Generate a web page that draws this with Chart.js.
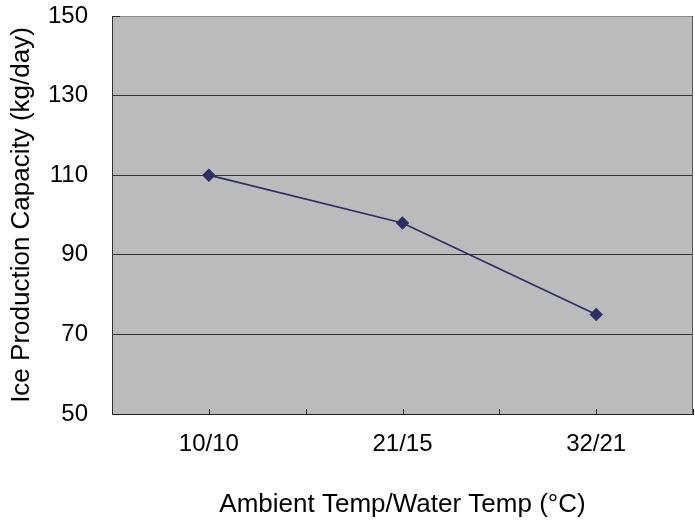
<!DOCTYPE html>
<html>
<head>
<meta charset="utf-8">
<script src="https://cdn.jsdelivr.net/npm/chart.js@4/dist/chart.umd.min.js"></script>
<style>
  html, body { margin: 0; padding: 0; background: #fff; }
  #wrap { width: 695px; height: 520px; }
</style>
</head>
<body>
<div id="wrap"><canvas id="myChart"></canvas></div>
<script>
const categories = ['10/10', '21/15', '32/21'];
const capacity = [110, 98, 75];
const yTicks = [50, 70, 90, 110, 130, 150];

// gray plot background, right border and the small inward tick marks
const plotFrame = {
  id: 'plotFrame',
  beforeDraw(chart) {
    const a = chart.chartArea, c = chart.ctx;
    c.save();
    c.fillStyle = '#bbbbbb';
    c.fillRect(a.left, a.top, a.right - a.left, a.bottom - a.top);
    c.restore();
  },
  afterDatasetsDraw(chart) {
    const a = chart.chartArea, c = chart.ctx, x = chart.scales.x;
    c.save();
    c.strokeStyle = '#222';
    c.lineWidth = 1;
    c.beginPath();
    const n = categories.length;
    for (let i = 0; i <= 2 * n; i++) {
      const px = Math.round(x.getPixelForValue(i / 2 - 0.5)) + 0.5;
      c.moveTo(px, a.bottom);
      c.lineTo(px, a.bottom - 5);
    }
    c.moveTo(a.left, Math.round(a.top) + 0.5);
    c.lineTo(a.left + 8, Math.round(a.top) + 0.5);
    c.stroke();
    c.strokeStyle = '#555';
    c.beginPath();
    c.moveTo(Math.round(a.right) - 0.5, a.top);
    c.lineTo(Math.round(a.right) - 0.5, a.bottom);
    c.stroke();
    c.restore();
  }
};

new Chart(document.getElementById('myChart'), {
  type: 'line',
  data: {
    labels: categories,
    datasets: [{
      data: capacity,
      borderColor: '#2f2f66',
      backgroundColor: '#2f2f66',
      borderWidth: 1.75,
      pointStyle: 'rectRot',
      pointRadius: 5.5,
      tension: 0
    }]
  },
  options: {
    responsive: true,
    maintainAspectRatio: false,
    animation: false,
    layout: { autoPadding: false, padding: { top: 16, right: 2, left: 0, bottom: 0 } },
    plugins: {
      legend: { display: false },
      tooltip: { enabled: false }
    },
    scales: {
      x: {
        offset: true,
        grid: { display: false, drawTicks: false },
        border: { display: true, color: '#222', width: 1 },
        ticks: { color: '#000', font: { family: 'Liberation Sans, Arial', size: 24 }, padding: 16, maxRotation: 0 },
        title: {
          display: true,
          text: 'Ambient Temp/Water Temp (°C)',
          color: '#000',
          font: { family: 'Liberation Sans, Arial', size: 26 },
          padding: { top: 3, bottom: 0 }
        },
        afterFit(s) { s.height = 106; s.paddingLeft = 0; s.paddingRight = 0; }
      },
      y: {
        min: 50,
        max: 150,
        afterBuildTicks(s) { s.ticks = yTicks.map(v => ({ value: v })); },
        grid: {
          drawTicks: false,
          color: ctx => ctx.tick.value === 150 ? '#8a8a8a' : (ctx.tick.value === 50 ? 'rgba(0,0,0,0)' : '#333'),
          lineWidth: 1
        },
        border: { display: true, color: '#333', width: 1 },
        ticks: { color: '#000', font: { family: 'Liberation Sans, Arial', size: 24 }, padding: 24 },
        title: {
          display: true,
          text: 'Ice Production Capacity (kg/day)',
          color: '#000',
          font: { family: 'Liberation Sans, Arial', size: 26 },
          padding: { top: 6, bottom: 0 }
        },
        afterFit(s) { s.width = 112; s.paddingTop = 0; s.paddingBottom = 0; }
      }
    }
  },
  plugins: [plotFrame]
});
</script>
</body>
</html>
